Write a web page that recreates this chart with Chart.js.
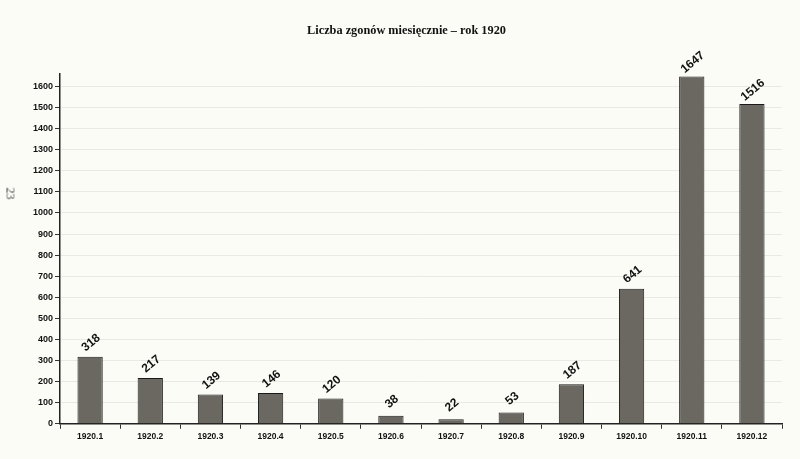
<!DOCTYPE html>
<html>
<head>
<meta charset="utf-8">
<script src="https://cdn.jsdelivr.net/npm/chart.js@4/dist/chart.umd.min.js"></script>
<style>
  html, body { margin: 0; padding: 0; background: #fcfcf7; }
  #wrap { position: relative; width: 800px; height: 459px; }
  #pageNo { position: absolute; left: 2px; top: 186px; font-family: "Liberation Serif", "DejaVu Serif", serif; font-size: 12px; color: #444; transform: rotate(90deg); transform-origin: center; width: 16px; text-align: center; }
</style>
</head>
<body>
<div id="wrap">
  <canvas id="c" width="800" height="459"></canvas>
  <div id="pageNo">23</div>
</div>
<script>
const chartTitle = "Liczba zgonów miesięcznie – rok 1920";
const months = ["1920.1","1920.2","1920.3","1920.4","1920.5","1920.6","1920.7","1920.8","1920.9","1920.10","1920.11","1920.12"];
const deaths = [318, 217, 139, 146, 120, 38, 22, 53, 187, 641, 1647, 1516];
const yMax = 1660;
const yStep = 100;

const valueLabels = {
  id: 'valueLabels',
  afterDatasetsDraw(chart) {
    const ctx = chart.ctx;
    const meta = chart.getDatasetMeta(0);
    ctx.save();
    ctx.font = 'bold 12px "Liberation Sans", Arial, sans-serif';
    ctx.fillStyle = '#111';
    ctx.textAlign = 'center';
    ctx.textBaseline = 'middle';
    meta.data.forEach((bar, i) => {
      ctx.save();
      ctx.translate(bar.x + 1, bar.y - 14);
      ctx.rotate(-40 * Math.PI / 180);
      ctx.fillText(String(chart.data.datasets[0].data[i]), 0, 0);
      ctx.restore();
    });
    ctx.restore();
  }
};

new Chart(document.getElementById('c'), {
  type: 'bar',
  data: {
    labels: months,
    datasets: [{
      data: deaths,
      backgroundColor: '#6b6761',
      borderColor: '#1a1a1a',
      borderWidth: 1,
      barPercentage: 0.42,
      categoryPercentage: 1.0
    }]
  },
  options: {
    responsive: false,
    animation: false,
    devicePixelRatio: 1,
    layout: { padding: { left: 31, right: 18, top: 0, bottom: 14 } },
    plugins: {
      legend: { display: false },
      tooltip: { enabled: false },
      title: {
        display: true,
        text: chartTitle,
        color: '#111',
        font: { family: '"Liberation Serif", "Times New Roman", serif', size: 12.3, weight: 'bold' },
        padding: { top: 23, bottom: 36 }
      }
    },
    scales: {
      x: {
        grid: { display: true, drawOnChartArea: false, drawTicks: true, tickLength: 5, color: '#333', offset: true },
        border: { display: true, color: '#222', width: 1.5 },
        ticks: { color: '#111', font: { family: '"Liberation Sans", Arial, sans-serif', size: 8.5, weight: 'bold' }, padding: 3, maxRotation: 0, autoSkip: false }
      },
      y: {
        min: 0,
        max: yMax,
        grid: { color: '#eaeae4', lineWidth: 1, tickLength: 5, tickColor: '#333' },
        border: { display: true, color: '#222', width: 1.5 },
        afterBuildTicks(scale) { scale.ticks = scale.ticks.filter(t => t.value % yStep === 0); },
        ticks: {
          stepSize: yStep,
          color: '#111',
          font: { family: '"Liberation Sans", Arial, sans-serif', size: 9, weight: 'bold' },
          padding: 2,
          callback: (v) => String(v)
        }
      }
    }
  },
  plugins: [valueLabels]
});
</script>
</body>
</html>
